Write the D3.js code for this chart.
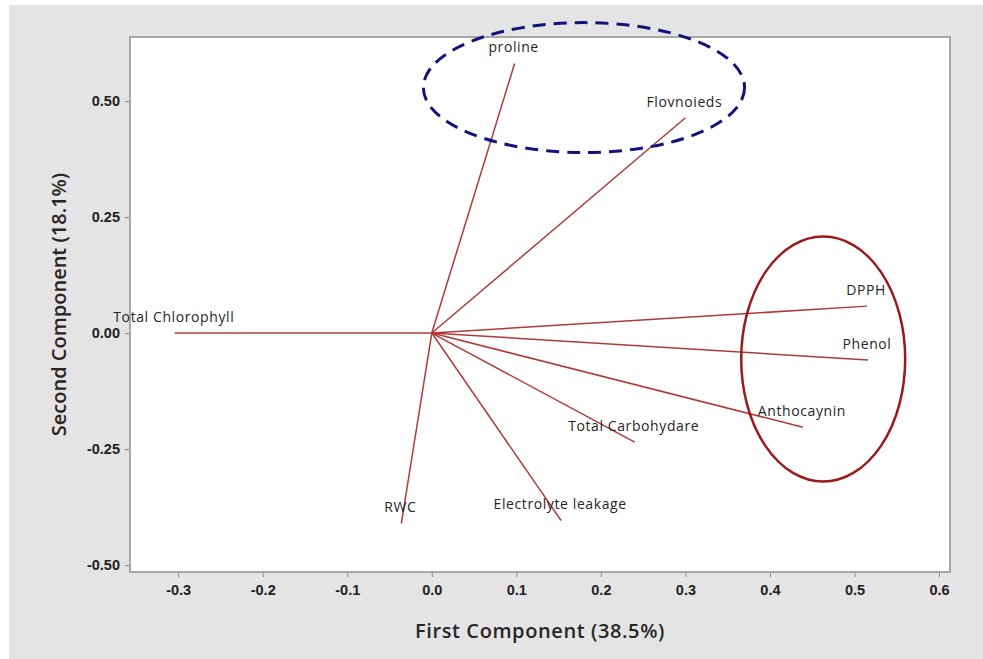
<!DOCTYPE html>
<meta charset="utf-8">
<style>
body { margin: 0; background: #fff; }
svg { font-family: "Open Sans", "Noto Sans", sans-serif; }
.axis path { display: none; }
.axis line { stroke: #8c8c8c; }
.axis text { fill: #222; font-size: 14.5px; font-weight: 600; }
.vec { stroke: #b03a3a; stroke-width: 1.5; }
.lbl { fill: #262626; font-size: 14px; letter-spacing: 0.6px; }
.title { fill: #262626; font-size: 20px; font-weight: 600; }
</style>
<svg width="983" height="659"></svg>
<script src="https://d3js.org/d3.v7.min.js"></script>
<script>

// loadings
var variables = ["Total Chlorophyll", "proline", "Flovnoieds", "DPPH", "Phenol",
                 "Anthocaynin", "Total Carbohydare", "Electrolyte leakage", "RWC"];
var pc1 = [-0.304, 0.098, 0.300, 0.515, 0.516, 0.439, 0.240, 0.153, -0.036];
var pc2 = [0.000, 0.581, 0.464, 0.058, -0.058, -0.203, -0.235, -0.404, -0.410];

var xTicks = [-0.3, -0.2, -0.1, 0.0, 0.1, 0.2, 0.3, 0.4, 0.5, 0.6];
var yTicks = [-0.50, -0.25, 0.00, 0.25, 0.50];

// group ellipses (centre x, centre y, radius x, radius y), in data units
var groups = [
  {cx: 0.180, cy: 0.529, rx: 0.190, ry: 0.140, color: "#13137a", dash: "13,8", w: 3},
  {cx: 0.463, cy: -0.056, rx: 0.097, ry: 0.264, color: "#9b1b1b", dash: null, w: 2.5}
];

var svg = d3.select("svg"),
    margin = {top: 37, right: 33, bottom: 87, left: 130},
    width = +svg.attr("width") - margin.left - margin.right,
    height = +svg.attr("height") - margin.top - margin.bottom;

// grey panel behind everything
svg.append("rect")
    .attr("x", 9).attr("y", 5)
    .attr("width", 983 - 9).attr("height", 659 - 5)
    .attr("fill", "#e4e4e4");

var x = d3.scaleLinear().domain([-0.357, 0.613]).range([0, width]);
var y = d3.scaleLinear().domain([-0.515, 0.638]).range([height, 0]);

// plain hyphen for negatives, like the original
function hy(fmt) {
  return function(d) { return fmt(d).replace("\u2212", "-"); };
}

var g = svg.append("g")
    .attr("transform", "translate(" + margin.left + "," + margin.top + ")");

g.append("rect")
    .attr("width", width).attr("height", height)
    .attr("fill", "#fff")
    .attr("stroke", "#a8a8a8")
    .attr("stroke-width", 2);

g.append("g")
    .attr("class", "axis axis--x")
    .attr("transform", "translate(0," + (height + 1) + ")")
    .call(d3.axisBottom(x).tickValues(xTicks).tickSize(4).tickPadding(8).tickFormat(hy(d3.format(".1f"))));

g.append("g")
    .attr("class", "axis axis--y")
    .attr("transform", "translate(-1,0)")
    .call(d3.axisLeft(y).tickValues(yTicks).tickSize(4).tickPadding(5).tickFormat(hy(d3.format(".2f"))));

var data = variables.map(function(v, i) { return {name: v, x: pc1[i], y: pc2[i]}; });

g.selectAll(".vec")
    .data(data)
  .enter().append("line")
    .attr("class", "vec")
    .attr("x1", x(0)).attr("y1", y(0))
    .attr("x2", function(d) { return x(d.x); })
    .attr("y2", function(d) { return y(d.y); });

g.selectAll(".lbl")
    .data(data)
  .enter().append("text")
    .attr("class", "lbl")
    .attr("x", function(d) { return x(d.x) - 1; })
    .attr("y", function(d) { return y(d.y) - 11; })
    .attr("text-anchor", "middle")
    .text(function(d) { return d.name; });

g.selectAll(".grp")
    .data(groups)
  .enter().append("ellipse")
    .attr("class", "grp")
    .attr("cx", function(d) { return x(d.cx); })
    .attr("cy", function(d) { return y(d.cy); })
    .attr("rx", function(d) { return x(d.rx) - x(0); })
    .attr("ry", function(d) { return y(0) - y(d.ry); })
    .attr("fill", "none")
    .attr("stroke", function(d) { return d.color; })
    .attr("stroke-width", function(d) { return d.w; })
    .attr("stroke-dasharray", function(d) { return d.dash; });

svg.append("text")
    .attr("class", "title")
    .attr("x", margin.left + width / 2)
    .attr("y", 638)
    .attr("text-anchor", "middle")
    .style("letter-spacing", "0.6px")
    .text("First Component (38.5%)");

svg.append("text")
    .attr("class", "title")
    .attr("transform", "translate(66," + (margin.top + height / 2) + ") rotate(-90)")
    .attr("text-anchor", "middle")
    .text("Second Component (18.1%)");

</script>
